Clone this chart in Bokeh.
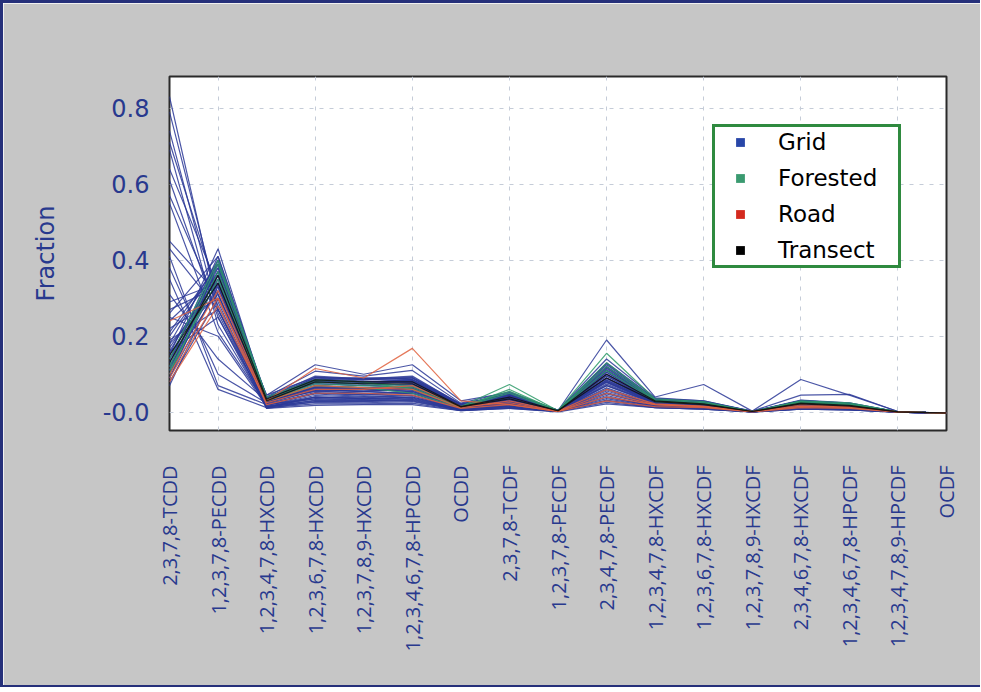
from bokeh.plotting import figure
from bokeh.models import ColumnDataSource, FixedTicker, Legend, LegendItem, PrintfTickFormatter
from bokeh.embed import file_html
from bokeh.resources import INLINE

congeners = ["2,3,7,8-TCDD", "1,2,3,7,8-PECDD", "1,2,3,4,7,8-HXCDD", "1,2,3,6,7,8-HXCDD",
             "1,2,3,7,8,9-HXCDD", "1,2,3,4,6,7,8-HPCDD", "OCDD", "2,3,7,8-TCDF",
             "1,2,3,7,8-PECDF", "2,3,4,7,8-PECDF", "1,2,3,4,7,8-HXCDF", "1,2,3,6,7,8-HXCDF",
             "1,2,3,7,8,9-HXCDF", "2,3,4,6,7,8-HXCDF", "1,2,3,4,6,7,8-HPCDF",
             "1,2,3,4,7,8,9-HPCDF", "OCDF"]

y_ticks = [0.0, 0.2, 0.4, 0.6, 0.8]

grid_profiles = [
    [0.83, 0.27, 0.010, 0.028, 0.030, 0.030, 0.005, 0.012, 0.002, 0.032, 0.012, 0.008, 0.001, 0.008, 0.006, 0.000, -0.003],
    [0.79, 0.29, 0.012, 0.032, 0.030, 0.034, 0.006, 0.014, 0.002, 0.036, 0.013, 0.010, 0.001, 0.009, 0.007, 0.000, -0.003],
    [0.74, 0.26, 0.014, 0.036, 0.034, 0.038, 0.007, 0.016, 0.002, 0.040, 0.014, 0.011, 0.001, 0.010, 0.008, 0.000, -0.003],
    [0.71, 0.31, 0.013, 0.040, 0.036, 0.040, 0.007, 0.018, 0.003, 0.044, 0.015, 0.012, 0.002, 0.011, 0.009, 0.001, -0.002],
    [0.69, 0.23, 0.016, 0.030, 0.028, 0.032, 0.006, 0.020, 0.002, 0.048, 0.017, 0.013, 0.001, 0.012, 0.009, 0.000, -0.003],
    [0.64, 0.33, 0.018, 0.044, 0.040, 0.044, 0.008, 0.021, 0.003, 0.052, 0.018, 0.014, 0.002, 0.014, 0.011, 0.001, -0.002],
    [0.61, 0.25, 0.020, 0.048, 0.042, 0.046, 0.009, 0.022, 0.003, 0.056, 0.019, 0.015, 0.002, 0.015, 0.011, 0.001, -0.002],
    [0.57, 0.28, 0.022, 0.052, 0.046, 0.050, 0.010, 0.024, 0.003, 0.060, 0.020, 0.016, 0.002, 0.016, 0.012, 0.001, -0.002],
    [0.55, 0.21, 0.019, 0.040, 0.038, 0.044, 0.008, 0.025, 0.003, 0.064, 0.021, 0.017, 0.002, 0.017, 0.013, 0.001, -0.002],
    [0.45, 0.31, 0.028, 0.060, 0.055, 0.060, 0.012, 0.030, 0.004, 0.070, 0.024, 0.019, 0.002, 0.020, 0.015, 0.001, -0.002],
    [0.43, 0.27, 0.025, 0.056, 0.050, 0.052, 0.010, 0.028, 0.003, 0.074, 0.023, 0.018, 0.002, 0.018, 0.014, 0.001, -0.002],
    [0.41, 0.07, 0.020, 0.050, 0.048, 0.055, 0.011, 0.030, 0.004, 0.080, 0.025, 0.020, 0.002, 0.020, 0.015, 0.001, -0.002],
    [0.38, 0.10, 0.024, 0.058, 0.054, 0.060, 0.012, 0.032, 0.004, 0.084, 0.026, 0.020, 0.002, 0.022, 0.016, 0.001, -0.002],
    [0.35, 0.06, 0.012, 0.022, 0.022, 0.024, 0.004, 0.010, 0.001, 0.022, 0.012, 0.008, 0.001, 0.008, 0.006, 0.000, -0.003],
    [0.31, 0.14, 0.030, 0.064, 0.060, 0.064, 0.014, 0.034, 0.004, 0.090, 0.028, 0.022, 0.002, 0.024, 0.018, 0.001, -0.002],
    [0.29, 0.34, 0.031, 0.070, 0.064, 0.070, 0.015, 0.036, 0.004, 0.096, 0.028, 0.022, 0.002, 0.022, 0.017, 0.001, -0.002],
    [0.26, 0.41, 0.040, 0.108, 0.095, 0.110, 0.024, 0.054, 0.005, 0.140, 0.038, 0.030, 0.003, 0.045, 0.047, 0.002, -0.002],
    [0.25, 0.20, 0.015, 0.026, 0.025, 0.028, 0.005, 0.012, 0.002, 0.030, 0.014, 0.010, 0.001, 0.010, 0.008, 0.000, -0.003],
    [0.24, 0.36, 0.035, 0.075, 0.070, 0.074, 0.016, 0.038, 0.004, 0.100, 0.030, 0.024, 0.002, 0.024, 0.018, 0.001, -0.002],
    [0.22, 0.30, 0.032, 0.080, 0.075, 0.080, 0.018, 0.040, 0.005, 0.105, 0.030, 0.024, 0.002, 0.026, 0.020, 0.001, -0.002],
    [0.20, 0.38, 0.035, 0.085, 0.080, 0.085, 0.016, 0.042, 0.005, 0.110, 0.032, 0.025, 0.002, 0.026, 0.020, 0.001, -0.002],
    [0.19, 0.27, 0.020, 0.035, 0.032, 0.036, 0.006, 0.016, 0.002, 0.040, 0.016, 0.010, 0.001, 0.010, 0.008, 0.000, -0.003],
    [0.18, 0.40, 0.038, 0.090, 0.085, 0.090, 0.018, 0.045, 0.005, 0.115, 0.033, 0.026, 0.002, 0.028, 0.022, 0.001, -0.002],
    [0.17, 0.35, 0.040, 0.086, 0.090, 0.086, 0.020, 0.048, 0.005, 0.120, 0.034, 0.028, 0.003, 0.030, 0.022, 0.001, -0.002],
    [0.16, 0.37, 0.036, 0.082, 0.080, 0.080, 0.018, 0.050, 0.005, 0.125, 0.035, 0.028, 0.002, 0.030, 0.024, 0.001, -0.002],
    [0.16, 0.25, 0.010, 0.018, 0.020, 0.020, 0.004, 0.010, 0.002, 0.026, 0.012, 0.008, 0.001, 0.008, 0.006, 0.000, -0.003],
    [0.15, 0.43, 0.030, 0.092, 0.086, 0.090, 0.020, 0.050, 0.004, 0.130, 0.036, 0.030, 0.002, 0.032, 0.025, 0.001, -0.002],
    [0.15, 0.36, 0.045, 0.125, 0.100, 0.125, 0.030, 0.052, 0.004, 0.190, 0.040, 0.073, 0.003, 0.086, 0.045, 0.002, -0.002],
    [0.14, 0.39, 0.032, 0.085, 0.080, 0.084, 0.016, 0.045, 0.004, 0.120, 0.032, 0.025, 0.002, 0.028, 0.020, 0.001, -0.002],
    [0.14, 0.34, 0.040, 0.080, 0.075, 0.080, 0.020, 0.040, 0.005, 0.110, 0.030, 0.022, 0.002, 0.025, 0.018, 0.001, -0.002],
    [0.13, 0.36, 0.045, 0.092, 0.090, 0.092, 0.022, 0.045, 0.005, 0.100, 0.030, 0.020, 0.002, 0.022, 0.018, 0.001, -0.002],
    [0.13, 0.41, 0.034, 0.088, 0.082, 0.078, 0.017, 0.043, 0.004, 0.118, 0.031, 0.024, 0.002, 0.027, 0.021, 0.001, -0.002],
    [0.12, 0.38, 0.035, 0.075, 0.070, 0.075, 0.018, 0.040, 0.004, 0.095, 0.028, 0.020, 0.002, 0.022, 0.016, 0.001, -0.002],
    [0.12, 0.32, 0.030, 0.070, 0.065, 0.070, 0.015, 0.035, 0.004, 0.090, 0.026, 0.018, 0.002, 0.020, 0.015, 0.001, -0.002],
    [0.11, 0.40, 0.030, 0.065, 0.060, 0.065, 0.014, 0.032, 0.003, 0.085, 0.025, 0.018, 0.002, 0.018, 0.014, 0.001, -0.002],
    [0.11, 0.37, 0.038, 0.095, 0.088, 0.095, 0.021, 0.047, 0.005, 0.128, 0.034, 0.027, 0.002, 0.031, 0.023, 0.001, -0.002],
    [0.10, 0.35, 0.025, 0.060, 0.055, 0.060, 0.012, 0.030, 0.003, 0.080, 0.024, 0.016, 0.002, 0.018, 0.014, 0.001, -0.002],
    [0.10, 0.39, 0.033, 0.078, 0.074, 0.082, 0.016, 0.038, 0.004, 0.105, 0.029, 0.021, 0.002, 0.023, 0.017, 0.001, -0.002],
    [0.09, 0.37, 0.030, 0.055, 0.050, 0.055, 0.012, 0.028, 0.003, 0.070, 0.022, 0.015, 0.002, 0.016, 0.012, 0.001, -0.002],
    [0.09, 0.33, 0.028, 0.068, 0.062, 0.066, 0.014, 0.033, 0.003, 0.088, 0.025, 0.018, 0.002, 0.019, 0.015, 0.001, -0.002],
    [0.08, 0.30, 0.020, 0.050, 0.045, 0.050, 0.010, 0.025, 0.003, 0.060, 0.020, 0.014, 0.001, 0.015, 0.012, 0.001, -0.002],
    [0.07, 0.34, 0.015, 0.040, 0.035, 0.040, 0.008, 0.020, 0.002, 0.050, 0.018, 0.012, 0.001, 0.012, 0.010, 0.001, -0.002],
    [0.18, 0.31, 0.028, 0.066, 0.060, 0.062, 0.013, 0.034, 0.003, 0.082, 0.024, 0.017, 0.002, 0.018, 0.014, 0.001, -0.002],
    [0.21, 0.39, 0.036, 0.084, 0.078, 0.086, 0.019, 0.046, 0.004, 0.112, 0.031, 0.024, 0.002, 0.026, 0.019, 0.001, -0.002],
    [0.27, 0.33, 0.026, 0.062, 0.058, 0.058, 0.012, 0.030, 0.003, 0.078, 0.023, 0.017, 0.002, 0.018, 0.014, 0.001, -0.002],
]

forested_profiles = [
    [0.12, 0.39, 0.035, 0.080, 0.075, 0.070, 0.015, 0.073, 0.004, 0.155, 0.035, 0.028, 0.002, 0.030, 0.025, 0.001, -0.002],
    [0.10, 0.37, 0.030, 0.075, 0.070, 0.065, 0.012, 0.060, 0.003, 0.130, 0.032, 0.025, 0.002, 0.028, 0.022, 0.001, -0.002],
    [0.14, 0.40, 0.040, 0.085, 0.080, 0.060, 0.014, 0.055, 0.004, 0.120, 0.030, 0.024, 0.002, 0.026, 0.020, 0.001, -0.002],
    [0.11, 0.35, 0.030, 0.070, 0.065, 0.050, 0.012, 0.050, 0.003, 0.110, 0.028, 0.022, 0.002, 0.024, 0.020, 0.001, -0.002],
]

road_profiles = [
    [0.09, 0.30, 0.030, 0.115, 0.090, 0.168, 0.030, 0.020, 0.002, 0.050, 0.020, 0.015, 0.002, 0.015, 0.012, 0.001, -0.002],
    [0.08, 0.28, 0.025, 0.060, 0.060, 0.070, 0.015, 0.025, 0.003, 0.060, 0.022, 0.016, 0.002, 0.016, 0.014, 0.001, -0.002],
    [0.10, 0.32, 0.030, 0.070, 0.065, 0.060, 0.012, 0.030, 0.003, 0.040, 0.020, 0.014, 0.002, 0.020, 0.015, 0.001, -0.002],
    [0.24, 0.30, 0.020, 0.050, 0.050, 0.045, 0.010, 0.020, 0.002, 0.030, 0.015, 0.012, 0.001, 0.012, 0.010, 0.000, -0.002],
]

transect_profiles = [
    [0.13, 0.36, 0.035, 0.085, 0.080, 0.080, 0.015, 0.040, 0.004, 0.100, 0.030, 0.022, 0.002, 0.024, 0.018, 0.001, -0.002],
    [0.15, 0.34, 0.030, 0.080, 0.075, 0.075, 0.014, 0.035, 0.004, 0.090, 0.028, 0.020, 0.002, 0.022, 0.016, 0.001, -0.002],
]

groups = ["Grid", "Forested", "Road", "Transect"]
line_colors = ["#2c3896", "#2e9a68", "#e0623e", "#111111"]
legend_colors = ["#2846a8", "#3a9a70", "#d42a1e", "#000000"]

x_pos = list(range(len(congeners)))
TXT = "#28398e"

p = figure(frame_width=777, frame_height=354,
           min_border_left=166, min_border_right=34, min_border_top=73, min_border_bottom=255,
           x_range=(0, len(congeners) - 1), y_range=(-0.048, 0.883),
           output_backend="svg", toolbar_location=None,
           background_fill_color="white", border_fill_color="#c6c6c6")
p.styles = {"border-left": "3px solid #26307a", "border-top": "3px solid #26307a",
            "border-bottom": "2px solid #26307a"}

p.outline_line_color = "#2a2a2a"
p.outline_line_width = 2

# axes
p.xaxis.ticker = FixedTicker(ticks=x_pos)
p.xaxis.major_label_overrides = {i: c for i, c in enumerate(congeners)}
p.xaxis.major_label_orientation = 1.5707963267948966
p.xaxis.major_label_text_font = "Open Sans"
p.xaxis.major_label_text_font_size = "20px"
p.xaxis.major_label_text_color = TXT
p.xaxis.major_label_standoff = 29
p.xaxis.axis_line_color = None
p.xaxis.major_tick_line_color = None
p.xaxis.minor_tick_line_color = None

p.yaxis.ticker = FixedTicker(ticks=y_ticks)
p.yaxis.formatter = PrintfTickFormatter(format="%.1f")
p.yaxis.major_label_overrides = {0: "-0.0"}
p.yaxis.major_label_text_font = "DejaVu Sans"
p.yaxis.major_label_text_font_size = "24px"
p.yaxis.major_label_text_color = TXT
p.yaxis.major_label_standoff = 14
p.yaxis.axis_label = "Fraction"
p.yaxis.axis_label_text_font = "DejaVu Sans"
p.yaxis.axis_label_text_font_size = "24px"
p.yaxis.axis_label_text_font_style = "normal"
p.yaxis.axis_label_text_color = TXT
p.yaxis.axis_label_standoff = 40
p.yaxis.axis_line_color = None
p.yaxis.major_tick_line_color = None
p.yaxis.minor_tick_line_color = None

# grids
p.xgrid.ticker = FixedTicker(ticks=[1, 3, 5, 7, 9, 11, 13, 15])
for g in (p.xgrid, p.ygrid):
    g.grid_line_color = "#c5ccd8"
    g.grid_line_dash = "4 6"
    g.grid_line_width = 1

all_profiles = [grid_profiles, forested_profiles, road_profiles, transect_profiles]
items = []
for name, profiles, col, lcol in zip(groups, all_profiles, line_colors, legend_colors):
    src = ColumnDataSource(dict(xs=[x_pos] * len(profiles), ys=profiles))
    p.multi_line("xs", "ys", source=src, line_color=col, line_width=1.2, line_alpha=0.85)
    # zero-size markers on the first profile: only used to draw the legend square
    r = p.scatter(x=x_pos, y=profiles[0], marker="square", size=0,
                  fill_color=lcol, line_color=None)
    items.append(LegendItem(label=name, renderers=[r]))

legend = Legend(items=items, location=(543, 162), orientation="vertical",
                border_line_color="#2f8a3f", border_line_width=3, border_line_alpha=1.0,
                background_fill_color="white", background_fill_alpha=1.0,
                label_text_font="DejaVu Sans", label_text_font_size="23px",
                label_text_color="black",
                glyph_width=46, glyph_height=22, label_height=26, label_width=118,
                label_standoff=15, spacing=10, padding=2, margin=0)
p.add_layout(legend, "center")

open("out.html", "w").write(file_html(p, INLINE))
